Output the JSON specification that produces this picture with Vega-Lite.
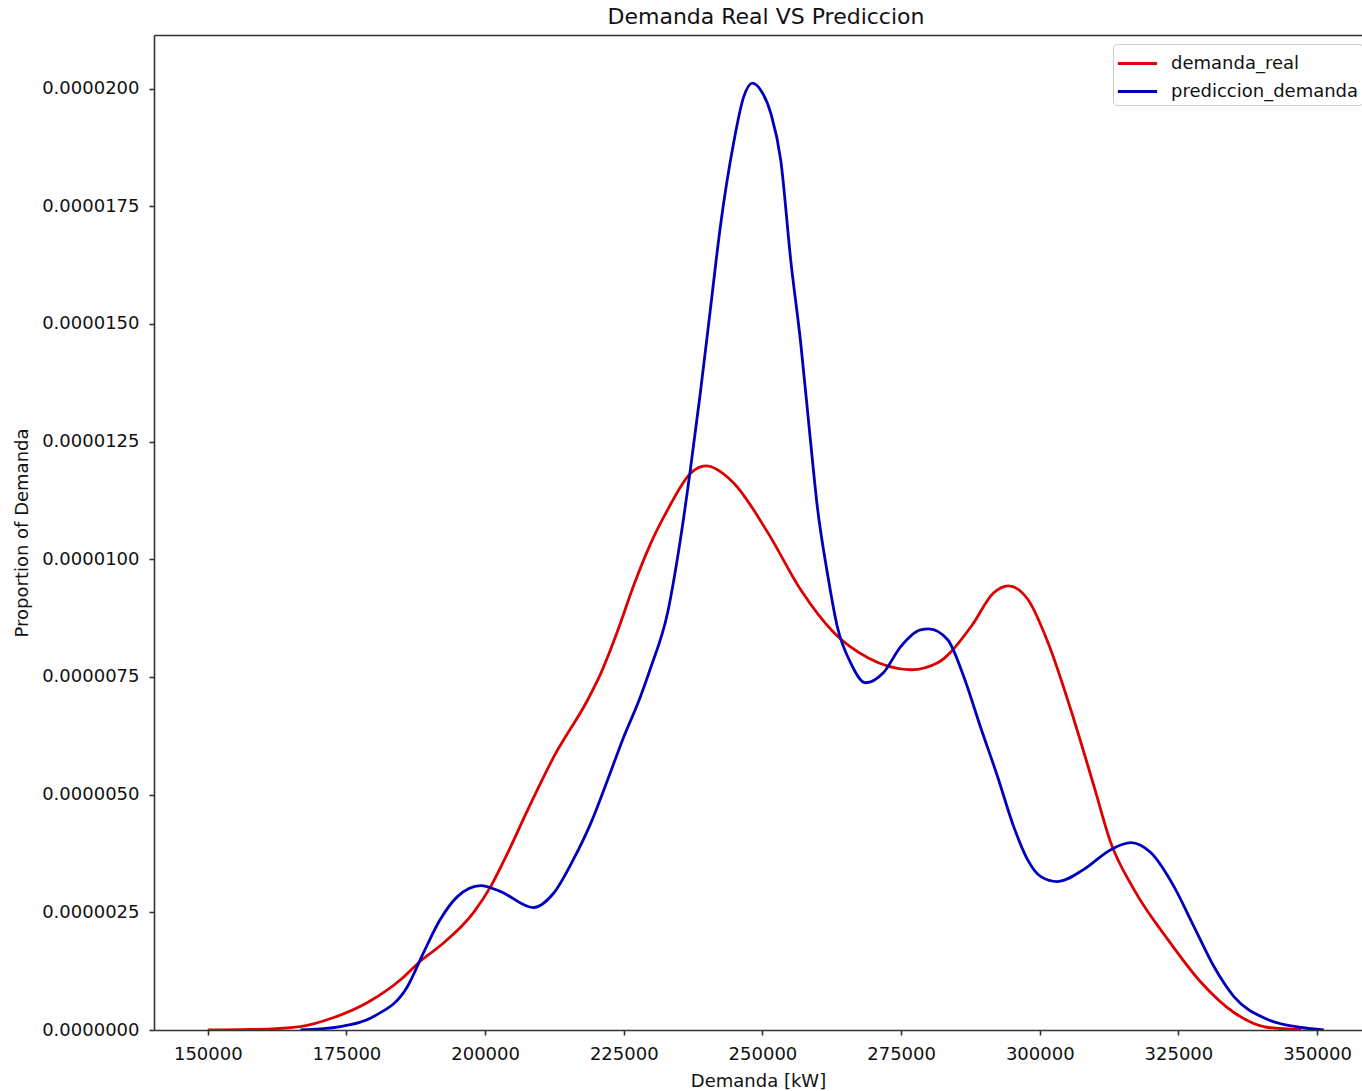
{
  "$schema": "https://vega.github.io/schema/vega-lite/v6.json",
  "autosize": {"type": "none"},
  "width": 1208,
  "height": 995,
  "padding": {"left": 154, "top": 35, "right": 0, "bottom": 61},
  "background": "white",
  "title": {"text": "Demanda Real VS Prediccion", "font": "DejaVu Sans", "fontSize": 22, "fontWeight": "normal", "color": "#111", "anchor": "middle", "dx": 8, "offset": 6},
  "config": {
    "view": {"stroke": null},
    "font": "DejaVu Sans",
    "axis": {"labelFont": "DejaVu Sans", "titleFont": "DejaVu Sans", "labelFontSize": 18, "titleFontSize": 18, "titleFontWeight": "normal", "labelColor": "#111", "titleColor": "#111", "domainColor": "#333", "domainWidth": 1.6, "tickColor": "#333", "tickWidth": 1.6, "tickSize": 5, "grid": false}
  },
  "datasets": {
    "kde": [
      {"demanda": 150000, "densidad": 0.0, "serie": "demanda_real"},
      {"demanda": 157700, "densidad": 0.000000011, "serie": "demanda_real"},
      {"demanda": 166700, "densidad": 0.000000074, "serie": "demanda_real"},
      {"demanda": 172700, "densidad": 0.000000265, "serie": "demanda_real"},
      {"demanda": 178800, "densidad": 0.000000584, "serie": "demanda_real"},
      {"demanda": 184800, "densidad": 0.000001072, "serie": "demanda_real"},
      {"demanda": 188400, "densidad": 0.000001470, "serie": "demanda_real"},
      {"demanda": 192000, "densidad": 0.000001800, "serie": "demanda_real"},
      {"demanda": 197900, "densidad": 0.000002495, "serie": "demanda_real"},
      {"demanda": 201000, "densidad": 0.000003047, "serie": "demanda_real"},
      {"demanda": 204100, "densidad": 0.000003769, "serie": "demanda_real"},
      {"demanda": 207700, "densidad": 0.000004681, "serie": "demanda_real"},
      {"demanda": 212400, "densidad": 0.000005807, "serie": "demanda_real"},
      {"demanda": 218500, "densidad": 0.000007017, "serie": "demanda_real"},
      {"demanda": 220800, "densidad": 0.000007560, "serie": "demanda_real"},
      {"demanda": 223800, "densidad": 0.000008450, "serie": "demanda_real"},
      {"demanda": 226800, "densidad": 0.000009450, "serie": "demanda_real"},
      {"demanda": 229900, "densidad": 0.000010350, "serie": "demanda_real"},
      {"demanda": 232900, "densidad": 0.000011051, "serie": "demanda_real"},
      {"demanda": 237100, "densidad": 0.000011836, "serie": "demanda_real"},
      {"demanda": 239800, "densidad": 0.000011985, "serie": "demanda_real"},
      {"demanda": 244800, "densidad": 0.000011624, "serie": "demanda_real"},
      {"demanda": 251000, "densidad": 0.000010562, "serie": "demanda_real"},
      {"demanda": 256900, "densidad": 0.000009352, "serie": "demanda_real"},
      {"demanda": 262900, "densidad": 0.000008439, "serie": "demanda_real"},
      {"demanda": 269000, "densidad": 0.000007909, "serie": "demanda_real"},
      {"demanda": 276800, "densidad": 0.000007654, "serie": "demanda_real"},
      {"demanda": 281600, "densidad": 0.000007802, "serie": "demanda_real"},
      {"demanda": 287600, "densidad": 0.000008567, "serie": "demanda_real"},
      {"demanda": 291700, "densidad": 0.000009289, "serie": "demanda_real"},
      {"demanda": 294300, "densidad": 0.000009437, "serie": "demanda_real"},
      {"demanda": 297900, "densidad": 0.00000914, "serie": "demanda_real"},
      {"demanda": 301500, "densidad": 0.000008227, "serie": "demanda_real"},
      {"demanda": 305600, "densidad": 0.000006805, "serie": "demanda_real"},
      {"demanda": 309800, "densidad": 0.00000517, "serie": "demanda_real"},
      {"demanda": 312800, "densidad": 0.000003981, "serie": "demanda_real"},
      {"demanda": 317000, "densidad": 0.000002983, "serie": "demanda_real"},
      {"demanda": 323100, "densidad": 0.000001921, "serie": "demanda_real"},
      {"demanda": 329100, "densidad": 0.000001008, "serie": "demanda_real"},
      {"demanda": 335000, "densidad": 0.000000372, "serie": "demanda_real"},
      {"demanda": 341200, "densidad": 0.000000053, "serie": "demanda_real"},
      {"demanda": 347100, "densidad": 0.00000001, "serie": "demanda_real"},
      {"demanda": 166700, "densidad": 0.0, "serie": "prediccion_demanda"},
      {"demanda": 173900, "densidad": 0.000000074, "serie": "prediccion_demanda"},
      {"demanda": 179900, "densidad": 0.000000287, "serie": "prediccion_demanda"},
      {"demanda": 186000, "densidad": 0.000000924, "serie": "prediccion_demanda"},
      {"demanda": 188900, "densidad": 0.000001645, "serie": "prediccion_demanda"},
      {"demanda": 191900, "densidad": 0.000002346, "serie": "prediccion_demanda"},
      {"demanda": 195000, "densidad": 0.000002834, "serie": "prediccion_demanda"},
      {"demanda": 199200, "densidad": 0.000003068, "serie": "prediccion_demanda"},
      {"demanda": 202800, "densidad": 0.000002941, "serie": "prediccion_demanda"},
      {"demanda": 208700, "densidad": 0.000002601, "serie": "prediccion_demanda"},
      {"demanda": 212300, "densidad": 0.000002900, "serie": "prediccion_demanda"},
      {"demanda": 215900, "densidad": 0.00000362, "serie": "prediccion_demanda"},
      {"demanda": 219000, "densidad": 0.000004380, "serie": "prediccion_demanda"},
      {"demanda": 222100, "densidad": 0.000005318, "serie": "prediccion_demanda"},
      {"demanda": 224900, "densidad": 0.000006200, "serie": "prediccion_demanda"},
      {"demanda": 228000, "densidad": 0.000007080, "serie": "prediccion_demanda"},
      {"demanda": 229800, "densidad": 0.00000768, "serie": "prediccion_demanda"},
      {"demanda": 232900, "densidad": 0.000008864, "serie": "prediccion_demanda"},
      {"demanda": 235200, "densidad": 0.000010414, "serie": "prediccion_demanda"},
      {"demanda": 237000, "densidad": 0.0000119, "serie": "prediccion_demanda"},
      {"demanda": 238800, "densidad": 0.000013535, "serie": "prediccion_demanda"},
      {"demanda": 240600, "densidad": 0.000015297, "serie": "prediccion_demanda"},
      {"demanda": 242400, "densidad": 0.000017059, "serie": "prediccion_demanda"},
      {"demanda": 244800, "densidad": 0.000018843, "serie": "prediccion_demanda"},
      {"demanda": 246600, "densidad": 0.000019819, "serie": "prediccion_demanda"},
      {"demanda": 248200, "densidad": 0.000020117, "serie": "prediccion_demanda"},
      {"demanda": 249700, "densidad": 0.000019968, "serie": "prediccion_demanda"},
      {"demanda": 251500, "densidad": 0.000019479, "serie": "prediccion_demanda"},
      {"demanda": 253300, "densidad": 0.000018482, "serie": "prediccion_demanda"},
      {"demanda": 255100, "densidad": 0.000016359, "serie": "prediccion_demanda"},
      {"demanda": 256900, "densidad": 0.000014596, "serie": "prediccion_demanda"},
      {"demanda": 258700, "densidad": 0.000012473, "serie": "prediccion_demanda"},
      {"demanda": 259900, "densidad": 0.000011114, "serie": "prediccion_demanda"},
      {"demanda": 261700, "densidad": 0.000009713, "serie": "prediccion_demanda"},
      {"demanda": 263500, "densidad": 0.000008567, "serie": "prediccion_demanda"},
      {"demanda": 265900, "densidad": 0.000007802, "serie": "prediccion_demanda"},
      {"demanda": 268600, "densidad": 0.000007378, "serie": "prediccion_demanda"},
      {"demanda": 271800, "densidad": 0.00000759, "serie": "prediccion_demanda"},
      {"demanda": 274900, "densidad": 0.000008142, "serie": "prediccion_demanda"},
      {"demanda": 278500, "densidad": 0.000008503, "serie": "prediccion_demanda"},
      {"demanda": 280000, "densidad": 0.000008524, "serie": "prediccion_demanda"},
      {"demanda": 283400, "densidad": 0.000008291, "serie": "prediccion_demanda"},
      {"demanda": 286300, "densidad": 0.000007505, "serie": "prediccion_demanda"},
      {"demanda": 289300, "densidad": 0.000006444, "serie": "prediccion_demanda"},
      {"demanda": 292400, "densidad": 0.000005382, "serie": "prediccion_demanda"},
      {"demanda": 295300, "densidad": 0.000004321, "serie": "prediccion_demanda"},
      {"demanda": 297800, "densidad": 0.00000362, "serie": "prediccion_demanda"},
      {"demanda": 300200, "densidad": 0.000003259, "serie": "prediccion_demanda"},
      {"demanda": 303200, "densidad": 0.000003153, "serie": "prediccion_demanda"},
      {"demanda": 307900, "densidad": 0.000003408, "serie": "prediccion_demanda"},
      {"demanda": 312800, "densidad": 0.000003832, "serie": "prediccion_demanda"},
      {"demanda": 316400, "densidad": 0.000003981, "serie": "prediccion_demanda"},
      {"demanda": 320000, "densidad": 0.000003769, "serie": "prediccion_demanda"},
      {"demanda": 324200, "densidad": 0.000003047, "serie": "prediccion_demanda"},
      {"demanda": 327800, "densidad": 0.000002197, "serie": "prediccion_demanda"},
      {"demanda": 331400, "densidad": 0.000001348, "serie": "prediccion_demanda"},
      {"demanda": 335000, "densidad": 0.000000711, "serie": "prediccion_demanda"},
      {"demanda": 341100, "densidad": 0.000000223, "serie": "prediccion_demanda"},
      {"demanda": 347100, "densidad": 0.000000053, "serie": "prediccion_demanda"},
      {"demanda": 351200, "densidad": 0.0, "serie": "prediccion_demanda"}
    ]
  },
  "data": {"name": "kde"},
  "encoding": {
    "y": {"field": "densidad", "type": "quantitative", "title": "Proportion of Demanda",
      "scale": {"domain": [0, 0.00002114], "nice": false, "zero": false},
      "axis": {"values": [0, 0.0000025, 0.000005, 0.0000075, 0.00001, 0.0000125, 0.000015, 0.0000175, 0.00002], "format": ".7f", "labelPadding": 10, "titlePadding": 10}},
    "color": {"field": "serie", "type": "nominal", "title": null,
      "scale": {"domain": ["demanda_real", "prediccion_demanda"], "range": ["#dc0000", "#0000bc"]},
      "legend": {"orient": "none", "legendX": 959, "legendY": 9, "symbolType": "M-1.4,0H1.4", "symbolSize": 784, "symbolStrokeWidth": 3, "labelFontSize": 18, "labelFont": "DejaVu Sans", "labelColor": "#111", "labelLimit": 400, "strokeColor": "#ccc", "fillColor": "white", "cornerRadius": 4, "padding": 4, "rowPadding": 3, "labelOffset": 18, "symbolOffset": 5}}
  },
  "layer": [
    {
      "transform": [{"filter": "datum.serie == 'demanda_real'"}],
      "mark": {"type": "line", "strokeWidth": 2.8, "interpolate": "monotone", "clip": true},
      "encoding": {
        "x": {"field": "demanda", "type": "quantitative", "title": "Demanda [kW]",
          "scale": {"domain": [140300, 358100], "nice": false, "zero": false},
          "axis": {"orient": "bottom", "values": [150000, 175000, 200000, 225000, 250000, 275000, 300000, 325000, 350000], "format": "d", "labelPadding": 10, "titlePadding": 9}}
      }
    },
    {
      "transform": [{"filter": "datum.serie == 'prediccion_demanda'"}],
      "mark": {"type": "line", "strokeWidth": 2.8, "interpolate": "monotone", "clip": true},
      "encoding": {
        "x": {"field": "demanda", "type": "quantitative",
          "scale": {"domain": [140300, 358100], "nice": false, "zero": false},
          "axis": {"orient": "top", "title": null, "labels": false, "ticks": false, "values": []}}
      }
    }
  ],
  "resolve": {"axis": {"x": "independent"}}
}
